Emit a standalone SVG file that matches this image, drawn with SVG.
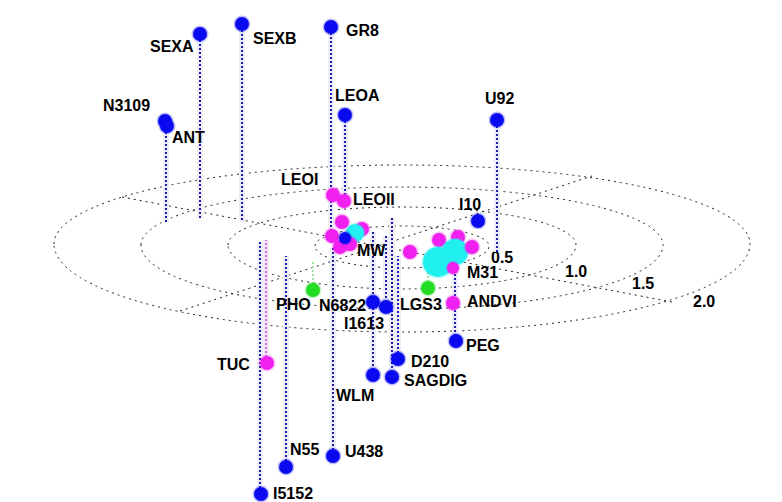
<svg xmlns="http://www.w3.org/2000/svg" width="782" height="502" viewBox="0 0 782 502">
<style>
text{font-family:"Liberation Sans",Arial,sans-serif;font-weight:bold;font-size:16px;fill:#000}
.ring{fill:none;stroke:#222;stroke-width:1;stroke-dasharray:2 4}
.halo{stroke:#efecfa;stroke-width:6;fill:none}
.vb{stroke:#1c1caa;stroke-width:2;stroke-dasharray:2 2;fill:none}
.vm{stroke:#e060e0;stroke-width:2;stroke-dasharray:2 2;fill:none}
.vg{stroke:#a0e0a0;stroke-width:2;stroke-dasharray:2 2;fill:none}
.b{fill:#0a0af0;stroke:#0a0af0;stroke-opacity:.25;stroke-width:3}
.m{fill:#f020f0;stroke:#f020f0;stroke-opacity:.25;stroke-width:3}
.c{fill:#20f0f0;stroke:#20f0f0;stroke-opacity:.25;stroke-width:3}
.g{fill:#22dd22;stroke:#22dd22;stroke-opacity:.25;stroke-width:3}
</style>
<rect width="782" height="502" fill="#fff"/>
<g id="plane">
<path class="ring" d="M315,246 A87,20 0 0 1 489,246 A87,22 0 0 1 315,246"/>
<path class="ring" d="M228,245 A174,38 0 0 1 576,245 A174,44 0 0 1 228,245"/>
<path class="ring" d="M141,245 A261,58 0 0 1 663,245 A261,64 0 0 1 141,245"/>
<path class="ring" d="M54,244 A348,79 0 0 1 750,244 A348,88 0 0 1 54,244"/>
<path class="ring" d="M122,197 L672,302"/>
<path class="ring" d="M180,311 L592,176"/>
<text x="491" y="263">0.5</text>
<text x="565" y="277">1.0</text>
<text x="632" y="289">1.5</text>
<text x="693" y="307">2.0</text>
</g>
<g id="connectors">
<g class="halo">
<path d="M166,128V222M200,40V218M242,30V222M331,33V232M345,121V195M497,126V252M333,450V248M373,370V232M386,302V236M392,372V218M398,353V256M455,336V270M266,357V240M260,488V242M286,461V256"/>
</g>
<path class="vb" d="M166,128V222M200,40V218M242,30V222M331,33V232M345,121V195M497,126V252M333,450V248M373,370V232M386,302V236M392,372V218M398,353V256M455,336V270M260,488V242M286,461V256"/>
<path class="vm" d="M266,357V240"/>
<path class="vg" d="M313,284V262M428,282V252"/>
</g>
<g id="SEXA"><circle class="b" cx="200" cy="34" r="7"/><text x="150" y="52">SEXA</text></g>
<g id="SEXB"><circle class="b" cx="242" cy="24" r="7"/><text x="253" y="44">SEXB</text></g>
<g id="GR8"><circle class="b" cx="331" cy="27" r="7"/><text x="346" y="36">GR8</text></g>
<g id="LEOA"><circle class="b" cx="345" cy="115" r="7"/><text x="335" y="101">LEOA</text></g>
<g id="U92"><circle class="b" cx="497" cy="120" r="7"/><text x="485" y="104">U92</text></g>
<g id="N3109"><circle class="b" cx="165" cy="121" r="7"/><text x="103" y="111">N3109</text></g>
<g id="ANT"><circle class="b" cx="167" cy="126" r="7"/><text x="172" y="143">ANT</text></g>
<g id="LEOI"><circle class="m" cx="333" cy="195" r="7"/><text x="281" y="185">LEOI</text></g>
<g id="LEOII"><circle class="m" cx="344" cy="201" r="7"/><text x="353" y="205">LEOII</text></g>
<g id="MW">
<circle class="m" cx="342" cy="222" r="7"/>
<circle class="m" cx="362" cy="229" r="7"/>
<circle class="m" cx="332" cy="236" r="7"/>
<circle class="c" cx="355" cy="233" r="9"/>
<circle class="m" cx="340" cy="247" r="7"/>
<circle class="m" cx="350" cy="244" r="7"/>
<circle class="b" cx="345" cy="238" r="6"/>
<text x="357" y="256">MW</text>
</g>
<g id="I10"><circle class="b" cx="478" cy="221" r="7"/><text x="459" y="210">I10</text></g>
<g id="M31">
<circle class="m" cx="410" cy="252" r="7"/>
<circle class="m" cx="439" cy="240" r="7"/>
<circle class="m" cx="458" cy="237" r="7"/>
<circle class="c" cx="455" cy="252" r="13"/>
<circle class="c" cx="438" cy="262" r="15"/>
<circle class="m" cx="472" cy="247" r="7"/>
<circle class="m" cx="453" cy="268" r="6"/>
<text x="467" y="278">M31</text>
</g>
<g id="PHO"><circle class="g" cx="313" cy="290" r="7"/><text x="276" y="310">PHO</text></g>
<g id="LGS3"><circle class="g" cx="428" cy="288" r="7"/><text x="400" y="310">LGS3</text></g>
<g id="N6822"><circle class="b" cx="373" cy="302" r="7"/><text x="319" y="311">N6822</text></g>
<g id="I1613"><circle class="b" cx="386" cy="307" r="7"/><text x="344" y="329">I1613</text></g>
<g id="ANDVI"><circle class="m" cx="453" cy="303" r="7"/><text x="467" y="307">ANDVI</text></g>
<g id="PEG"><circle class="b" cx="456" cy="341" r="7"/><text x="466" y="351">PEG</text></g>
<g id="TUC"><circle class="m" cx="267" cy="363" r="7"/><text x="217" y="370">TUC</text></g>
<g id="D210"><circle class="b" cx="398" cy="359" r="7"/><text x="411" y="367">D210</text></g>
<g id="SAGDIG"><circle class="b" cx="392" cy="377" r="7"/><text x="404" y="386">SAGDIG</text></g>
<g id="WLM"><circle class="b" cx="373" cy="375" r="7"/><text x="336" y="401">WLM</text></g>
<g id="N55"><circle class="b" cx="286" cy="467" r="7"/><text x="290" y="455">N55</text></g>
<g id="U438"><circle class="b" cx="333" cy="456" r="7"/><text x="345" y="457">U438</text></g>
<g id="I5152"><circle class="b" cx="261" cy="494" r="7"/><text x="273" y="499">I5152</text></g>
</svg>
